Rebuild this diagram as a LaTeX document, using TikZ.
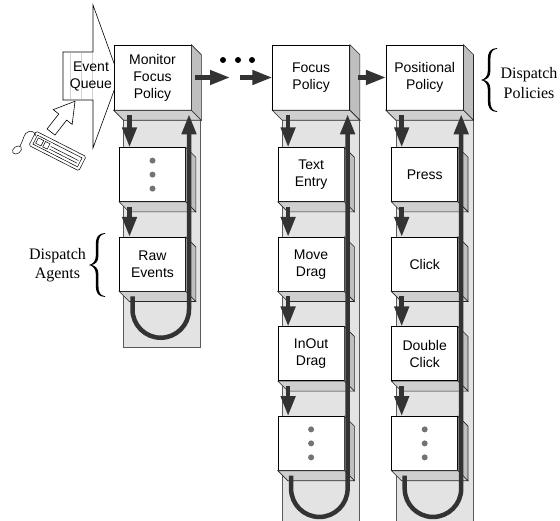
\documentclass[tikz,border=0pt]{standalone}
\usepackage{fontspec}
\setmainfont{Liberation Serif}
\setsansfont{Liberation Sans}
\usetikzlibrary{arrows.meta,positioning,backgrounds}

\newcommand{\boxsides}[1]{%
  \filldraw[side] (#1.north east) -- ([shift={(10,-10)}]#1.north east)
     -- ([shift={(10,-10)}]#1.south east) -- (#1.south east) -- cycle;
  \filldraw[bottom] (#1.south west) -- (#1.south east)
     -- ([shift={(10,-10)}]#1.south east) -- ([shift={(10,-10)}]#1.south west) -- cycle;}
\newcommand{\threedots}[1]{%
  \fill[dotgray] ([yshift=14pt]#1.center) circle (3);
  \fill[dotgray] (#1.center) circle (3);
  \fill[dotgray] ([yshift=-14pt]#1.center) circle (3);}

\begin{document}
\begin{tikzpicture}[x=1pt,y=1pt,>={Triangle[width=14pt,length=20pt]},node distance=35pt,
  policy/.style={draw,fill=white,line width=0.6pt,minimum width=77pt,minimum height=65pt,
    inner sep=0pt,align=center,font=\sffamily\fontsize{14}{17}\selectfont},
  agent/.style={policy,minimum width=66pt,minimum height=54pt},
  side/.style={draw=black!85,fill=gray!50,line width=0.6pt},
  bottom/.style={draw=black!85,fill=gray!38,line width=0.6pt},
  column/.style={draw=gray!70!black,fill=gray!22,line width=0.6pt},
  flow/.style={line width=4.5pt,draw=black!80},
  dotgray/.style={fill=black!55},
  txt/.style={align=center,inner sep=0pt,font=\sffamily\fontsize{14}{17}\selectfont},
  serif/.style={align=center,inner sep=0pt,font=\rmfamily\fontsize{16}{19.5}\selectfont},
  curly/.pic={
    \fill (16,32) .. controls (9.5,31.7) and (6.8,28) .. (6.8,21) -- (6.8,9)
      .. controls (6.8,3.5) and (3.5,0.8) .. (0,0)
      .. controls (3.5,-0.8) and (6.8,-3.5) .. (6.8,-9) -- (6.8,-21)
      .. controls (6.8,-28) and (9.5,-31.7) .. (16,-32) -- (16,-31.2)
      .. controls (11,-30.5) and (9.4,-27) .. (9.4,-21) -- (9.4,-9)
      .. controls (9.4,-3) and (6,-0.6) .. (2.6,0)
      .. controls (6,0.6) and (9.4,3) .. (9.4,9) -- (9.4,21)
      .. controls (9.4,27) and (11,30.5) .. (16,31.2) -- cycle;}]

\useasboundingbox (0,0) rectangle (560,520);

% event queue
\filldraw[fill=white,line width=0.6pt] (63,468) -- (93,468) -- (93,515) -- (119,443)
   -- (93,372) -- (93,420) -- (63,420) -- cycle;
\foreach \x in {70,81,92} \draw[gray!35,line width=0.6pt] (\x,421) -- (\x,467);
\node[txt] (eq) at (91,443) {Event\\Queue};

% dispatch policies
\node[policy] (p1) at (152.5,442.5) {Monitor\\Focus\\Policy};
\node[policy] (p2) [right=81pt of p1] {Focus\\Policy};
\node[policy] (p3) [right=36pt of p2] {Positional\\Policy};
\boxsides{p1} \boxsides{p2} \boxsides{p3}

% dispatch agents
\node[agent] (a11) [below=37pt of p1] {};
\node[agent] (a12) [below=of a11] {Raw\\Events};
\node[agent] (a21) [below=37pt of p2] {Text\\Entry};
\node[agent] (a22) [below=of a21] {Move\\Drag};
\node[agent] (a23) [below=of a22] {InOut\\Drag};
\node[agent] (a24) [below=of a23] {};
\node[agent] (a31) [below=37pt of p3] {Press};
\node[agent] (a32) [below=of a31] {Click};
\node[agent] (a33) [below=of a32] {Double\\Click};
\node[agent] (a34) [below=of a33] {};
\boxsides{a11} \boxsides{a12}
\boxsides{a21} \boxsides{a22} \boxsides{a23} \boxsides{a24}
\boxsides{a31} \boxsides{a32} \boxsides{a33} \boxsides{a34}
\threedots{a11} \threedots{a24} \threedots{a34}

\begin{scope}[on background layer]
  \draw[column] ([xshift=10pt]p1.south west) rectangle ++(77,-237);
  \draw[column] ([xshift=10pt]p2.south west) rectangle ++(77,-415);
  \draw[column] ([xshift=10pt]p3.south west) rectangle ++(77,-415);
\end{scope}

% down and back up
\draw[flow,->] ([xshift=-23pt,yshift=-5pt]p1.south) -- ([xshift=-23pt]a11.north);
\draw[flow,->] ([xshift=-23pt,yshift=-5pt]a11.south) -- ([xshift=-23pt]a12.north);
\draw[flow,->] ([xshift=-20pt,yshift=-5pt]a12.south) -- ++(0,-13)
   arc[start angle=180,end angle=360,radius=28.25] -- ([xshift=36.5pt,yshift=-4pt]p1.south);

\draw[flow,->] ([xshift=-23pt,yshift=-5pt]p2.south) -- ([xshift=-23pt]a21.north);
\draw[flow,->] ([xshift=-23pt,yshift=-5pt]a21.south) -- ([xshift=-23pt]a22.north);
\draw[flow,->] ([xshift=-23pt,yshift=-5pt]a22.south) -- ([xshift=-23pt]a23.north);
\draw[flow,->] ([xshift=-23pt,yshift=-5pt]a23.south) -- ([xshift=-23pt]a24.north);
\draw[flow,->] ([xshift=-20pt,yshift=-5pt]a24.south) -- ++(0,-13)
   arc[start angle=180,end angle=360,radius=28.25] -- ([xshift=36.5pt,yshift=-4pt]p2.south);

\draw[flow,->] ([xshift=-23pt,yshift=-5pt]p3.south) -- ([xshift=-23pt]a31.north);
\draw[flow,->] ([xshift=-23pt,yshift=-5pt]a31.south) -- ([xshift=-23pt]a32.north);
\draw[flow,->] ([xshift=-23pt,yshift=-5pt]a32.south) -- ([xshift=-23pt]a33.north);
\draw[flow,->] ([xshift=-23pt,yshift=-5pt]a33.south) -- ([xshift=-23pt]a34.north);
\draw[flow,->] ([xshift=-20pt,yshift=-5pt]a34.south) -- ++(0,-13)
   arc[start angle=180,end angle=360,radius=28.25] -- ([xshift=36.5pt,yshift=-4pt]p3.south);

% policy chain
\coordinate (gapL) at (230,442.5);
\coordinate (gapR) at (240,442.5);
\draw[flow,->] ([xshift=4pt]p1.east) -- (gapL);
\draw[flow,->] (gapR) -- (p2);
\draw[flow,->] ([xshift=8pt]p2.east) -- (p3);
\foreach \x in {223,238,252} \fill (\x,460) circle (3);

% braces
\pic (bp) at (481,440) {curly};
\node[serif] (dp) at (529,437) {Dispatch\\Policies};
\pic (ba) at (89,255) {curly};
\node[serif] (da) at (57.5,255) {Dispatch\\Agents};

% input devices
\begin{scope}[shift={(51,388)},rotate=52]
  \filldraw[fill=white,line width=0.6pt] (0,-5) -- (19,-5) -- (19,-12) -- (39,0)
     -- (19,12) -- (19,5) -- (0,5) -- cycle;
\end{scope}
\begin{scope}[shift={(57.5,369)},rotate=-27,line width=0.5pt]
  \draw[rounded corners=1.5pt] (-28,-8) rectangle (28,8);
  \draw (-25,-5) rectangle (25,5);
  \draw (-23,-3) rectangle (-17,3);
  \draw (-15,-3) rectangle (-10,3);
  \draw (-8,1) -- (23,1);
  \draw (-8,-2) -- (23,-2);
\end{scope}
\draw[line width=0.5pt,rotate around={35:(17,370)}] (17,370) ellipse [x radius=5,y radius=3.5];
\draw[line width=0.5pt] (20,374) .. controls (24,380) and (23,387) .. (29,388.5)
   .. controls (33,389.5) and (35,387) .. (36,384);
\end{tikzpicture}
\end{document}
